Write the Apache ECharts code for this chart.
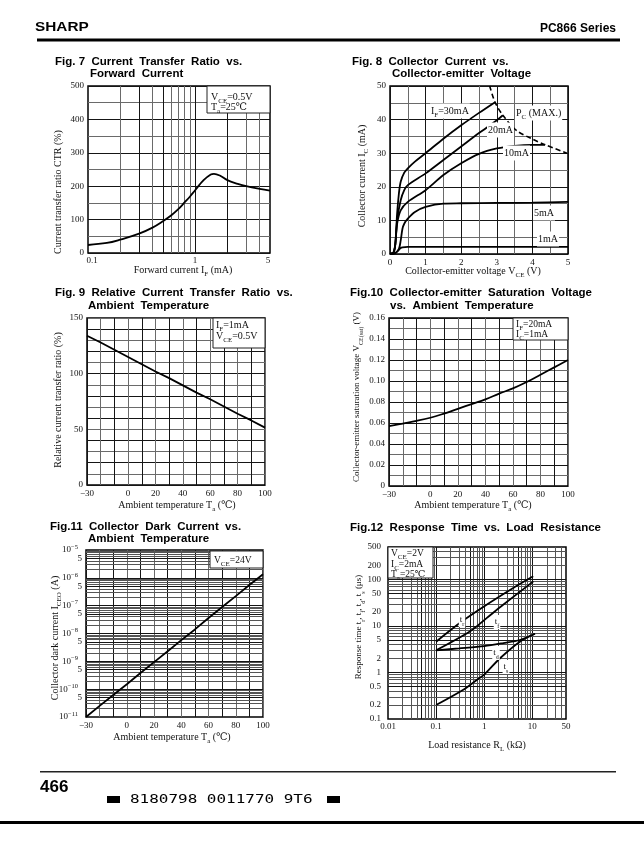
<!DOCTYPE html>
<html><head><meta charset="utf-8">
<script src="https://cdn.jsdelivr.net/npm/echarts@6/dist/echarts.min.js"></script>
<style>html,body{margin:0;padding:0;background:#fff}#c{width:644px;height:864px}</style>
</head><body><div id="c"></div>
<script>
// ---------------- DATA ----------------
// Fig.7 CTR vs IF
const f7_IF  = [0.1,0.15,0.2,0.3,0.4,0.5,0.6,0.7,0.8,0.9,1.0,1.2,1.4,1.5,1.7,2.0,2.5,3.0,4.0,5.0];
const f7_CTR = [24,30,40,58,76,95,113,132,152,170,188,218,235,237,232,218,207,200,192,187];
const f7_gridX = [0.2,0.3,0.4,0.5,0.6,0.7,0.8,0.9,1,2,3,4];
const f7_tickX = [0.1,1,5];
// Fig.8 IC vs VCE
const f8_V30 = [0,0.1,0.15,0.2,0.25,0.3,0.4,0.5,0.7,1.0,1.5,2.0,2.5,2.95];
const f8_I30 = [0,0.5,3,12,18,21.5,24.2,25.5,27.5,30,34.3,38.3,42,45.2];
const f8_V20 = [0,0.1,0.15,0.2,0.3,0.4,0.5,1.0,1.5,2.0,2.5,3.0,3.17];
const f8_I20 = [0,0.5,3,10,16,19,20.5,24,28,32,36,39.8,41.3];
const f8_V10 = [0,0.1,0.15,0.2,0.3,0.5,1.0,1.5,2.0,2.5,3.0,3.5,4.0,4.35];
const f8_I10 = [0,0.5,3,9,13,15.5,19,23.5,27,29.8,31.4,32.2,32.5,32.5];
const f8_V5  = [0,0.15,0.25,0.3,0.35,0.4,0.5,0.7,1.0,1.5,2.0,3.0,4.0,5.0];
const f8_I5  = [0,0.3,1.5,4,7.5,9,10.5,12.5,14,15,15.1,15.2,15.3,15.5];
const f8_V1  = [0,0.15,0.25,0.3,0.35,0.5,1,2,3,4,5];
const f8_I1  = [0,0.3,1.2,1.8,2.0,2.1,2.1,2.1,2.1,2.1,2.1];
const f8_Vpc = [2.8,2.95,3.17,3.55,4.0,4.36,4.97];
const f8_Ipc = [50,45.2,41.3,36.8,34.2,32.5,30];
// Fig.9 relative CTR vs Ta
const f9_T = [-30,-20,-10,0,10,20,30,40,50,60,70,80,90,100];
const f9_R = [134,128,121.5,115,108.5,102,96,89.5,83,77,70.5,64,58,51.5];
// Fig.10 VCE(sat) vs Ta
const f10_T = [-30,-20,-10,0,10,20,30,40,50,60,70,80,90,100];
const f10_V = [0.057,0.0595,0.062,0.065,0.069,0.0735,0.078,0.0825,0.088,0.093,0.099,0.106,0.113,0.120];
// Fig.11 ICEO vs Ta
const f11_T = [-30,-20,-10,0,10,20,30,40,50,60,70,80,90,100];
const f11_I = [1.0e-11,2.5e-11,6.2e-11,1.5e-10,3.8e-10,9.4e-10,2.3e-9,5.8e-9,1.4e-8,3.6e-8,8.9e-8,2.2e-7,5.5e-7,1.35e-6];
const f11_decades = [1e-11,1e-10,1e-9,1e-8,1e-7,1e-6,1e-5];
const f11_decadeLabels = ['−11','−10','−9','−8','−7','−6','−5'];
const f11_fives = [5e-11,5e-10,5e-9,5e-8,5e-7,5e-6];
// Fig.12 response time vs RL
const f12_RLr = [0.1,0.31,1.12,4.0,10.4];
const f12_tr  = [4.6,11.6,28.6,65.6,117];
const f12_RLf = [0.1,0.5,1.12,2.47,10.5];
const f12_tf  = [3.0,7.6,14.8,28.6,91];
const f12_RLd = [0.1,0.3,1,2.5,5.5,11.3];
const f12_td  = [3.0,3.3,3.7,4.3,5.0,6.8];
const f12_RLs = [0.1,0.36,0.7,1,2.1,5.5,11.3];
const f12_ts  = [0.2,0.42,0.69,0.9,2.0,4.6,6.8];
const f12_tickX = [0.01,0.1,1,10,50];
const f12_tickXLabels = ['0.01','0.1','1','10','50'];
const f12_tickY = [0.1,0.2,0.5,1,2,5,10,20,50,100,200,500];
const f12_tickYLabels = ['0.1','0.2','0.5','1','2','5','10','20','50','100','200','500'];

// ---------------- STYLE ----------------
const SERIF = '"Liberation Serif","DejaVu Serif",serif';
const SANS = '"Liberation Sans","DejaVu Sans",sans-serif';
const INK = '#111';
const DARK = '#151515', LIGHT = '#6a6a6a';

function richSet(size){
  return {
    n:{fontFamily:SERIF,fontSize:size,lineHeight:size+5,color:INK},
    s:{fontFamily:SERIF,fontSize:Math.round(size*0.72),color:INK,verticalAlign:'bottom'},
    p:{fontFamily:SERIF,fontSize:Math.round(size*0.72),color:INK,verticalAlign:'top'}
  };
}
function T(x,y,text,size,o){
  o=o||{};
  const el={type:'text',x:x,y:y,z:100,silent:true,
    style:{text:text,rich:richSet(size),align:o.align||'left',verticalAlign:'middle',fill:INK,
      font:size+'px '+SERIF}};
  if(o.rot) el.rotation=o.rot;
  if(o.bg){el.style.backgroundColor='#fff';el.style.padding=[0,1,0,1];}
  return el;
}
function H(x,y,text){
  return {type:'text',x:x,y:y,z:100,silent:true,
    style:{text:text,font:'bold 11.5px '+SANS,fill:'#000',verticalAlign:'middle'}};
}
function box(x,y,w,h){
  return {type:'rect',z:90,silent:true,shape:{x:x,y:y,width:w,height:h},
    style:{fill:'#fff',stroke:'#222',lineWidth:1}};
}

const labStyle={fontFamily:SERIF,fontSize:9,color:INK};
const hide={show:false};

function linAxis(gi,min,max,interval,fmt,margin){
  return {type:'value',gridIndex:gi,min:min,max:max,interval:interval,
    axisLine:hide,axisTick:hide,
    axisLabel:Object.assign({formatter:fmt,margin:margin},labStyle),
    splitLine:{show:true,lineStyle:{color:[DARK,LIGHT],width:1}}};
}
function logAxis(gi,min,max){
  return {type:'log',logBase:10,gridIndex:gi,min:min,max:max,
    axisLine:hide,axisTick:hide,axisLabel:hide,splitLine:hide};
}
function curve(xi,yi,xs,ys,o){
  o=o||{};
  return {type:'line',xAxisIndex:xi,yAxisIndex:yi,z:3,silent:true,symbol:'none',
    smooth:o.smooth==null?0.35:o.smooth,
    lineStyle:{color:'#000',width:o.w||1.8,type:o.dash?[5,3]:'solid'},
    data:xs.map((x,i)=>[x,ys[i]])};
}
function gridSeries(xi,yi,items){
  return {type:'line',xAxisIndex:xi,yAxisIndex:yi,data:[],z:1,silent:true,
    markLine:{silent:true,symbol:['none','none'],animation:false,z:1,precision:20,
      label:{show:false},emphasis:{disabled:true},data:items}};
}
function gline(key,v,color){
  const it={lineStyle:{color:color,width:1,type:'solid'},label:{show:false}};
  it[key]=v; return it;
}
function glabel(key,v,text,dist,rich,pad){
  const it={lineStyle:{color:'rgba(0,0,0,0)',width:0.01,type:'solid'},
    label:Object.assign({show:true,position:'start',distance:dist,opacity:1,formatter:()=>text,rich:rich,padding:pad||0},labStyle)};
  it[key]=v; return it;
}
function logMinors(lo,hi){ // gridline positions m*10^n
  const out=[];
  for(let n=lo;n<hi;n++){for(let m=1;m<=9;m++){const v=m*Math.pow(10,n); if(m===1&&n===lo)continue; out.push([v,m]);}}
  return out;
}

// ---------------- GRID LINES FOR LOG CHARTS ----------------
const f7Items=[];
f7_gridX.forEach(v=>f7Items.push(gline('xAxis',v,(v===1||v===0.3||v===0.5||v===2)?DARK:LIGHT)));
f7_tickX.forEach((v,i)=>f7Items.push(glabel('xAxis',v,String(v),3,null,i===0?[0,0,0,8]:(i===2?[0,4,0,0]:0))));

const supRich={sp:{fontFamily:SERIF,fontSize:6.5,color:INK,verticalAlign:'top'},m:{fontFamily:SERIF,fontSize:9,lineHeight:13,color:INK}};
const f11Items=[];
logMinors(-11,-5).forEach(([v,m])=>f11Items.push(gline('yAxis',v,(m===1||m===5)?DARK:'#555')));
f11_decades.forEach((v,i)=>f11Items.push(glabel('yAxis',v,'{m|10}{sp|'+f11_decadeLabels[i]+'}',8,supRich)));
f11_fives.forEach(v=>f11Items.push(glabel('yAxis',v,'5',4)));

const f12Items=[];
logMinors(-2,2).forEach(([v,m])=>{ if(v<50) f12Items.push(gline('xAxis',v,(m===1||m===5)?DARK:'#555')); });
logMinors(-1,3).forEach(([v,m])=>{ if(v<500) f12Items.push(gline('yAxis',v,(m===1||m===5)?DARK:'#555')); });
f12_tickX.forEach((v,i)=>f12Items.push(glabel('xAxis',v,f12_tickXLabels[i],3)));
f12_tickY.forEach((v,i)=>f12Items.push(glabel('yAxis',v,f12_tickYLabels[i],7)));

// ---------------- OPTION ----------------
const tempFmt=v=>(v===-30?'−30':(v>=0&&v%20===0?String(v):''));
const option={
  animation:false,
  backgroundColor:'#fff',
  grid:[
    {left:88,top:86,width:182,height:167},
    {left:390,top:86,width:178,height:168},
    {left:87,top:318,width:178,height:167},
    {left:389,top:318,width:179,height:168},
    {left:86,top:550,width:177,height:167},
    {left:388,top:547,width:178,height:172}
  ].map(g=>Object.assign({show:true,borderColor:'#000',borderWidth:1.5,backgroundColor:'transparent',containLabel:false,outerBoundsMode:'none'},g)),
  xAxis:[
    logAxis(0,0.1,5),
    linAxis(1,0,5,0.5,v=>(Math.abs(v-Math.round(v))<1e-6?String(Math.round(v)):''),4),
    linAxis(2,-30,100,10,tempFmt,4),
    linAxis(3,-30,100,10,tempFmt,4),
    linAxis(4,-30,100,10,tempFmt,4),
    logAxis(5,0.01,50)
  ],
  yAxis:[
    linAxis(0,0,500,50,v=>(v%100===0?String(v):''),4),
    linAxis(1,0,50,5,v=>(v%10===0?String(v):''),4),
    linAxis(2,0,150,10,v=>(v%50===0?String(v):''),4),
    linAxis(3,0,0.16,0.01,v=>{const k=Math.round(v*100);return k%2===0?(k===0?'0':(k/100).toFixed(2)):'';},4),
    logAxis(4,1e-11,1e-5),
    logAxis(5,0.1,500)
  ],
  series:[
    curve(0,0,f7_IF,f7_CTR,{smooth:0.4}),
    gridSeries(0,0,f7Items),
    curve(1,1,f8_V30,f8_I30,{smooth:0.3}),
    curve(1,1,f8_V20,f8_I20,{smooth:0.3}),
    curve(1,1,f8_V10,f8_I10,{smooth:0.3}),
    curve(1,1,f8_V5,f8_I5,{smooth:0.3}),
    curve(1,1,f8_V1,f8_I1,{smooth:0.3}),
    curve(1,1,f8_Vpc,f8_Ipc,{smooth:0.3,dash:true,w:1.6}),
    curve(2,2,f9_T,f9_R,{smooth:0}),
    curve(3,3,f10_T,f10_V,{smooth:0.4}),
    curve(4,4,f11_T,f11_I,{smooth:0}),
    gridSeries(4,4,f11Items),
    curve(5,5,f12_RLr,f12_tr,{smooth:0.3}),
    curve(5,5,f12_RLf,f12_tf,{smooth:0.3}),
    curve(5,5,f12_RLd,f12_td,{smooth:0.3}),
    curve(5,5,f12_RLs,f12_ts,{smooth:0.3}),
    gridSeries(5,5,f12Items)
  ],
  graphic:[
    // header
    {type:'text',x:35,y:27,z:100,scaleX:1.18,style:{text:'SHARP',font:'900 13px '+SANS,fill:'#000',verticalAlign:'middle'}},
    {type:'text',x:616,y:29,z:100,style:{text:'PC866 Series',font:'bold 12px '+SANS,fill:'#000',align:'right',verticalAlign:'middle'}},
    {type:'rect',z:100,shape:{x:37,y:38.5,width:583,height:3},style:{fill:'#000'}},
    // footer
    {type:'rect',z:100,shape:{x:40,y:771,width:576,height:1.5},style:{fill:'#222'}},
    {type:'text',x:40,y:787,z:100,style:{text:'466',font:'bold 17px '+SANS,fill:'#000',verticalAlign:'middle'}},
    {type:'rect',z:100,shape:{x:107,y:796,width:13,height:7},style:{fill:'#000'}},
    {type:'rect',z:100,shape:{x:327,y:796,width:13,height:7},style:{fill:'#000'}},
    {type:'text',x:130,y:800,z:100,scaleX:1.33,style:{text:'8180798 0011770 9T6',font:'12px "DejaVu Sans Mono",monospace',fill:'#000',verticalAlign:'middle'}},
    {type:'rect',z:100,shape:{x:0,y:821,width:644,height:3},style:{fill:'#000'}},
    // titles
    H(55,62,'Fig. 7  Current  Transfer  Ratio  vs.'), H(90,74,'Forward  Current'),
    H(352,62,'Fig. 8  Collector  Current  vs.'), H(392,74,'Collector-emitter  Voltage'),
    H(55,293,'Fig. 9  Relative  Current  Transfer  Ratio  vs.'), H(88,306,'Ambient  Temperature'),
    H(350,293,'Fig.10  Collector-emitter  Saturation  Voltage'), H(390,306,'vs.  Ambient  Temperature'),
    H(50,527,'Fig.11  Collector  Dark  Current  vs.'), H(88,539,'Ambient  Temperature'),
    H(350,528,'Fig.12  Response  Time  vs.  Load  Resistance'),
    // axis titles
    T(58,192,'{n|Current transfer ratio CTR (%)}',10,{align:'center',rot:Math.PI/2}),
    T(183,270,'{n|Forward current I}{s|F}{n| (mA)}',10,{align:'center'}),
    T(362,176,'{n|Collector current I}{s|C}{n| (mA)}',10,{align:'center',rot:Math.PI/2}),
    T(473,271,'{n|Collector-emitter voltage V}{s|CE}{n| (V)}',10,{align:'center'}),
    T(58,400,'{n|Relative current transfer ratio (%)}',10,{align:'center',rot:Math.PI/2}),
    T(177,505,'{n|Ambient temperature T}{s|a}{n| (℃)}',10,{align:'center'}),
    T(357,397,'{n|Collector-emitter saturation voltage V}{s|CE(sat)}{n| (V)}',9,{align:'center',rot:Math.PI/2}),
    T(473,505,'{n|Ambient temperature T}{s|a}{n| (℃)}',10,{align:'center'}),
    T(55,638,'{n|Collector dark current I}{s|CEO}{n| (A)}',10,{align:'center',rot:Math.PI/2}),
    T(172,737,'{n|Ambient temperature T}{s|a}{n| (℃)}',10,{align:'center'}),
    T(359,627,'{n|Response time t}{s|r}{n|, t}{s|f}{n|, t}{s|d}{n|, t}{s|s}{n| (μs)}',9,{align:'center',rot:Math.PI/2}),
    T(477,745,'{n|Load resistance R}{s|L}{n| (kΩ)}',10,{align:'center'}),
    // annotation boxes
    box(207,86,63,27), T(211,97,'{n|V}{s|CE}{n|=0.5V}',10), T(211,107,'{n|T}{s|a}{n|=25℃}',10),
    box(213,318,52,30), T(216,325,'{n|I}{s|F}{n|=1mA}',10), T(216,336,'{n|V}{s|CE}{n|=0.5V}',10),
    box(513,318,55,22), T(516,324,'{n|I}{s|F}{n|=20mA}',9.5), T(516,334,'{n|I}{s|C}{n|=1mA}',9.5),
    box(210,551,53,17), T(214,560,'{n|V}{s|CE}{n|=24V}',9.5),
    box(388,547,45,31), T(391,553,'{n|V}{s|CE}{n|=2V}',9.5), T(391,564,'{n|I}{s|C}{n|=2mA}',9.5), T(391,574,'{n|T}{s|a}{n|=25℃}',9.5),
    // Fig.8 curve labels
    T(430,111,'{n|I}{s|F}{n|=30mA}',10,{bg:true}),
    T(515,113,'{n|P}{s|C}{n| (MAX.)}',10,{bg:true}),
    T(487,130,'{n|20mA}',10,{bg:true}),
    T(503,153,'{n|10mA}',10,{bg:true}),
    T(533,213,'{n|5mA}',10,{bg:true}),
    T(537,239,'{n|1mA}',10,{bg:true}),
    // Fig.12 curve labels
    T(462,620,'{n|t}{s|r}',9,{align:'center',bg:true}),
    T(497,622,'{n|t}{s|f}',9,{align:'center',bg:true}),
    T(496,653,'{n|t}{s|d}',9,{align:'center',bg:true}),
    T(506,667,'{n|t}{s|s}',9,{align:'center',bg:true})
  ]
};
const chart=echarts.init(document.getElementById('c'),null,{renderer:'canvas',width:644,height:864});
chart.setOption(option);
</script></body></html>
